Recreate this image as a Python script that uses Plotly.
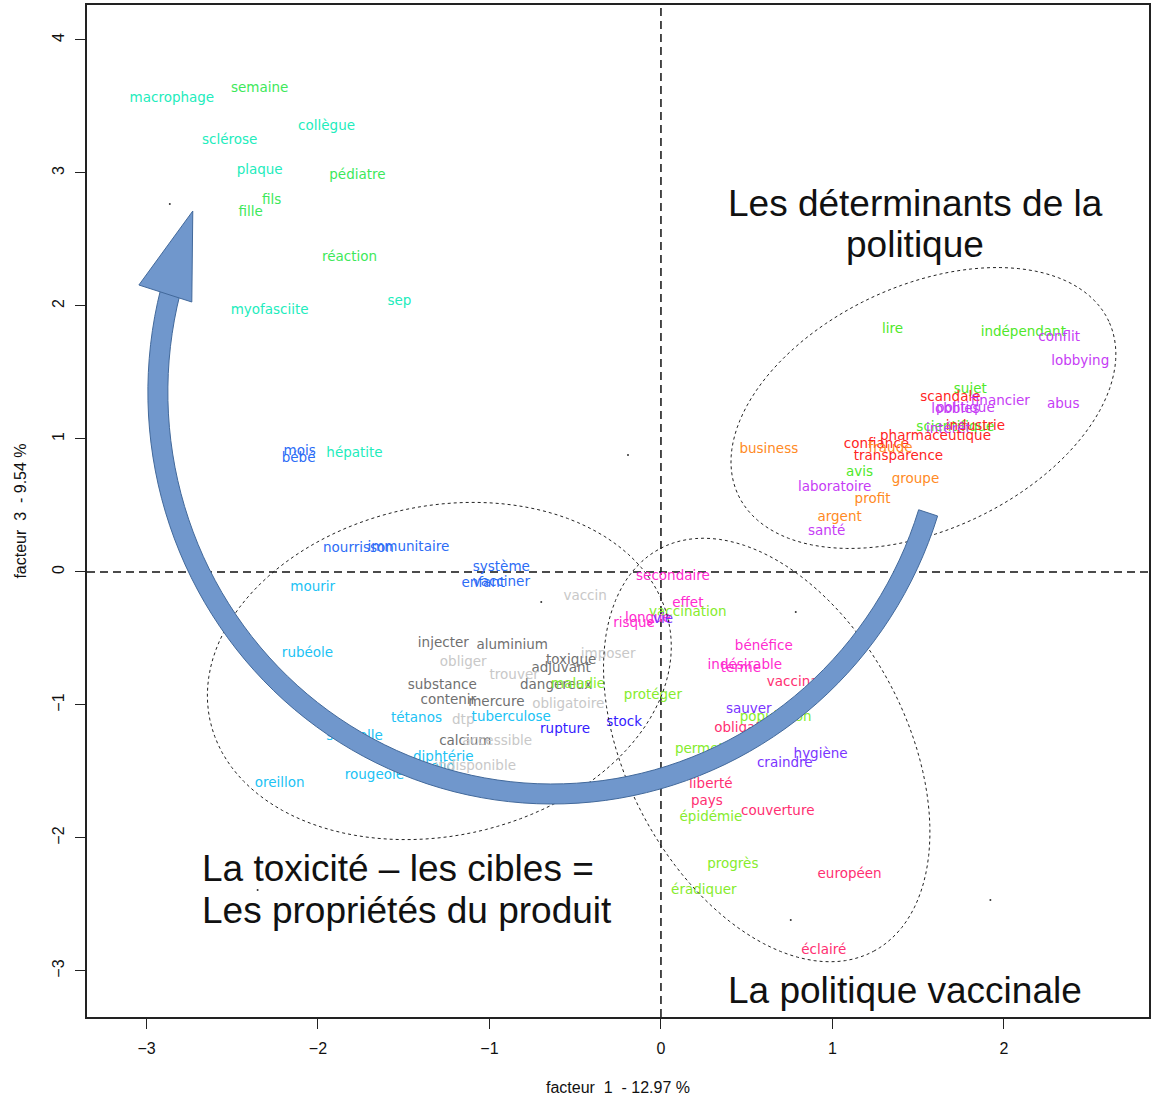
import math

import plotly.graph_objects as go

# --- colours of the word classes -------------------------------------------
AQUA = "#22ecbc"
SPRING = "#3de85a"
BLUE = "#2c6cf6"
SKY = "#20c2f4"
GREY = "#707070"
LGREY = "#c8c8c8"
CHART = "#86ec2c"
LIME = "#4fe829"
MAGENTA = "#ff2bcf"
ROSE = "#ff2f72"
PURPLE = "#7a35ff"
VIOLET = "#c63cf5"
RED = "#ff2424"
ORANGE = "#ff8a24"
INDIGO = "#3320ff"

# --- words on the factorial plane (facteur 1, facteur 3) -------------------
words = [
    "macrophage", "semaine", "collègue", "sclérose", "plaque", "pédiatre",
    "fils", "fille", "réaction", "sep", "myofasciite", "mois", "bébé", "hépatite",
    "lire", "indépendant", "conflit", "lobbying", "sujet", "scandale",
    "financier", "abus", "lobbies", "politique", "scientifique", "industrie",
    "intérêt", "pharmaceutique", "confiance", "fraude", "transparence",
    "business", "avis", "groupe", "laboratoire", "profit", "argent", "santé",
    "nourrisson", "immunitaire", "système", "enfant", "vacciner", "mourir",
    "vaccin", "rubéole", "injecter", "aluminium", "obliger", "imposer",
    "toxique", "adjuvant", "trouver", "substance", "dangereux", "maladie",
    "contenir", "mercure", "obligatoire", "tétanos", "dtp", "tuberculose",
    "rupture", "stock", "séquelle", "calcium", "accessible", "diphtérie",
    "polio", "indisponible", "rougeole", "oreillon",
    "secondaire", "effet", "vaccination", "risque", "longue", "vie",
    "bénéfice", "indésirable", "terme", "vaccinale", "protéger", "sauver",
    "population", "obligation", "permettre", "hygiène", "craindre", "liberté",
    "pays", "couverture", "épidémie", "progrès", "européen", "éradiquer",
    "éclairé",
]

facteur1 = [
    -2.852, -2.340, -1.950, -2.515, -2.340, -1.770,
    -2.270, -2.392, -1.816, -1.525, -2.282, -2.107, -2.113, -1.787,
    1.350, 2.113, 2.322, 2.445, 1.804, 1.688,
    1.979, 2.346, 1.717, 1.775, 1.717, 1.834,
    1.676, 1.601, 1.257, 1.339, 1.385,
    0.629, 1.158, 1.484, 1.013, 1.234, 1.042, 0.966,
    -1.764, -1.473, -0.931, -1.036, -0.931, -2.031,
    -0.442, -2.061, -1.269, -0.867, -1.153, -0.308,
    -0.524, -0.582, -0.856, -1.275, -0.611, -0.483,
    -1.240, -0.960, -0.541, -1.426, -1.153, -0.873,
    -0.559, -0.215, -1.787, -1.141, -0.955, -1.269,
    -1.298, -1.083, -1.671, -2.224,
    0.070, 0.157, 0.157, -0.157, -0.076, 0.012,
    0.600, 0.489, 0.466, 0.803, -0.047, 0.512,
    0.669, 0.506, 0.279, 0.931, 0.722, 0.291,
    0.268, 0.681, 0.291, 0.419, 1.100, 0.250,
    0.949,
]

facteur3 = [
    3.556, 3.632, 3.346, 3.241, 3.015, 2.977,
    2.789, 2.699, 2.361, 2.030, 1.962, 0.902, 0.850, 0.887,
    1.820, 1.797, 1.759, 1.579, 1.368, 1.308,
    1.278, 1.256, 1.218, 1.226, 1.083, 1.090,
    1.068, 1.015, 0.955, 0.925, 0.865,
    0.917, 0.744, 0.692, 0.632, 0.541, 0.406, 0.301,
    0.173, 0.180, 0.030, -0.090, -0.083, -0.120,
    -0.188, -0.617, -0.541, -0.556, -0.684, -0.624,
    -0.669, -0.729, -0.782, -0.857, -0.857, -0.850,
    -0.970, -0.985, -1.000, -1.105, -1.120, -1.098,
    -1.188, -1.135, -1.241, -1.278, -1.278, -1.398,
    -1.474, -1.466, -1.534, -1.594,
    -0.038, -0.241, -0.308, -0.391, -0.353, -0.361,
    -0.564, -0.707, -0.729, -0.835, -0.932, -1.038,
    -1.098, -1.180, -1.338, -1.376, -1.444, -1.602,
    -1.729, -1.805, -1.850, -2.203, -2.278, -2.398,
    -2.850,
]

word_colors = [
    AQUA, SPRING, AQUA, AQUA, AQUA, SPRING,
    SPRING, SPRING, SPRING, AQUA, AQUA, BLUE, BLUE, AQUA,
    LIME, LIME, VIOLET, VIOLET, LIME, RED,
    VIOLET, VIOLET, VIOLET, VIOLET, LIME, RED,
    VIOLET, RED, RED, ORANGE, RED,
    ORANGE, LIME, ORANGE, VIOLET, ORANGE, ORANGE, VIOLET,
    BLUE, BLUE, BLUE, BLUE, BLUE, SKY,
    LGREY, SKY, GREY, GREY, LGREY, LGREY,
    GREY, GREY, LGREY, GREY, GREY, CHART,
    GREY, GREY, LGREY, SKY, LGREY, SKY,
    INDIGO, INDIGO, SKY, GREY, LGREY, SKY,
    SKY, LGREY, SKY, SKY,
    MAGENTA, MAGENTA, CHART, MAGENTA, MAGENTA, PURPLE,
    MAGENTA, MAGENTA, MAGENTA, ROSE, CHART, PURPLE,
    CHART, ROSE, CHART, PURPLE, PURPLE, ROSE,
    ROSE, ROSE, CHART, CHART, ROSE, CHART,
    ROSE,
]

# stray points (pch = ".")
dot_x = [-2.864, -0.192, -0.698, 0.786, -2.352, 1.921, 0.757]
dot_y = [2.767, 0.880, -0.226, -0.301, -2.391, -2.466, -2.617]

x_ticks = [-3, -2, -1, 0, 1, 2]
y_ticks = [-3, -2, -1, 0, 1, 2, 3, 4]
X_RANGE = [-3.347, 2.846]
Y_RANGE = [-3.346, 4.263]

# --- plot box in pixels, used for the hand-drawn overlay -------------------
BOX_L, BOX_T, BOX_W, BOX_H = 87, 5, 1064, 1012


def to_paper(px, py):
    return (px - BOX_L) / BOX_W, (BOX_T + BOX_H - py) / BOX_H


def path_from_pixels(points, close=True):
    parts = []
    for i, (px, py) in enumerate(points):
        u, v = to_paper(px, py)
        parts.append(("M" if i == 0 else "L") + f"{u:.5f},{v:.5f}")
    return " ".join(parts) + (" Z" if close else "")


def ellipse_points(cx, cy, a, b, angle_deg, n=120):
    phi = math.radians(angle_deg)
    pts = []
    for k in range(n):
        t = 2 * math.pi * k / n
        ex, ey = a * math.cos(t), b * math.sin(t)
        rx = ex * math.cos(phi) - ey * math.sin(phi)
        ry = ex * math.sin(phi) + ey * math.cos(phi)
        pts.append((cx + rx, cy - ry))
    return pts


def arc_points(cx, cy, rx, ry, start_deg, end_deg, n=90):
    pts = []
    for k in range(n + 1):
        t = math.radians(start_deg + (end_deg - start_deg) * k / n)
        pts.append((cx + rx * math.cos(t), cy + ry * math.sin(t)))
    return pts


def band(points, half_width):
    left, right = [], []
    for i, (px, py) in enumerate(points):
        a = points[max(i - 1, 0)]
        b = points[min(i + 1, len(points) - 1)]
        tx, ty = b[0] - a[0], b[1] - a[1]
        n = math.hypot(tx, ty) or 1.0
        nx, ny = -ty / n, tx / n
        left.append((px + half_width * nx, py + half_width * ny))
        right.append((px - half_width * nx, py - half_width * ny))
    return left + right[::-1]


# the curved arrow: an elliptic arc (pixels, screen angles) and its head
arrow_line = arc_points(553, 392, 395, 402, 17.5, 194.5)
arrow_head = [(139, 285), (193, 211), (192, 302)]

ARROW_FILL = "#7097cc"
ARROW_EDGE = "#42699b"

fig = go.Figure()

fig.add_trace(
    go.Scatter(
        x=dot_x,
        y=dot_y,
        mode="markers",
        marker=dict(size=2, color="#333333"),
        hoverinfo="skip",
    )
)

fig.add_trace(
    go.Scatter(
        x=facteur1,
        y=facteur3,
        mode="text",
        text=words,
        textposition="middle center",
        textfont=dict(family="DejaVu Sans", size=13.5, color=word_colors),
        hovertemplate="<b>%{text}</b><br>facteur 1: %{x:.2f}<br>facteur 3: %{y:.2f}<extra></extra>",
    )
)

shapes = [
    dict(type="line", xref="x", yref="y", x0=0, x1=0, y0=Y_RANGE[0], y1=Y_RANGE[1],
         line=dict(color="#111111", width=1.5, dash="8px,5px"), layer="below"),
    dict(type="line", xref="x", yref="y", x0=X_RANGE[0], x1=X_RANGE[1], y0=0, y1=0,
         line=dict(color="#111111", width=1.5, dash="8px,5px"), layer="below"),
]

for cx, cy, a, b, ang in [(925, 408, 205, 122, 25), (440, 671, 235, 165, 12),
                          (768, 750, 228, 140, -62)]:
    shapes.append(dict(
        type="path", xref="paper", yref="paper",
        path=path_from_pixels(ellipse_points(cx, cy, a, b, ang)),
        line=dict(color="#222222", width=1, dash="dot"),
        fillcolor="rgba(0,0,0,0)", layer="above",
    ))

shapes.append(dict(
    type="path", xref="paper", yref="paper",
    path=path_from_pixels(band(arrow_line, 10)),
    line=dict(color=ARROW_EDGE, width=1), fillcolor=ARROW_FILL, layer="above",
))
shapes.append(dict(
    type="path", xref="paper", yref="paper",
    path=path_from_pixels(arrow_head),
    line=dict(color=ARROW_EDGE, width=1), fillcolor=ARROW_FILL, layer="above",
))

big_font = dict(family="Liberation Sans", size=37, color="#111111")
annotations = [
    dict(text="Les déterminants de la", x=to_paper(917, 204)[0], y=to_paper(917, 204)[1],
         xanchor="center", yanchor="middle"),
    dict(text="politique", x=to_paper(917, 245)[0], y=to_paper(917, 245)[1],
         xanchor="center", yanchor="middle"),
    dict(text="La toxicité – les cibles =", x=to_paper(200, 868)[0], y=to_paper(200, 868)[1],
         xanchor="left", yanchor="middle"),
    dict(text="Les propriétés du produit", x=to_paper(200, 911)[0], y=to_paper(200, 911)[1],
         xanchor="left", yanchor="middle"),
    dict(text="La politique vaccinale", x=to_paper(907, 990)[0], y=to_paper(907, 990)[1],
         xanchor="center", yanchor="middle"),
]
for ann in annotations:
    ann.update(xref="paper", yref="paper", showarrow=False, font=big_font)

axis_font = dict(family="Liberation Sans Narrow, Liberation Sans", size=16, color="#111111")
axis_common = dict(
    showgrid=False,
    zeroline=False,
    showline=True,
    mirror=True,
    linecolor="#222222",
    linewidth=1.5,
    ticks="outside",
    ticklen=10,
    tickwidth=1,
    tickcolor="#222222",
    tickfont=axis_font,
)

fig.update_layout(
    width=1151,
    height=1096,
    margin=dict(l=BOX_L, r=0, t=BOX_T, b=1096 - BOX_T - BOX_H),
    paper_bgcolor="white",
    plot_bgcolor="white",
    showlegend=False,
    shapes=shapes,
    annotations=annotations,
    xaxis=dict(
        range=X_RANGE,
        tickvals=x_ticks,
        ticklabelstandoff=6,
        title=dict(text="facteur\u00a0 1\u00a0 - 12.97 %", font=axis_font, standoff=26),
        **axis_common,
    ),
    yaxis=dict(
        range=Y_RANGE,
        tickvals=y_ticks,
        tickangle=-90,
        ticklabelstandoff=5,
        title=dict(text="facteur\u00a0 3\u00a0 - 9.54 %", font=axis_font, standoff=19),
        **axis_common,
    ),
)

fig.write_html(
    "out.html",
    config={"displayModeBar": False},
    post_script="document.body.style.margin='0px';document.body.style.overflow='hidden';",
)
